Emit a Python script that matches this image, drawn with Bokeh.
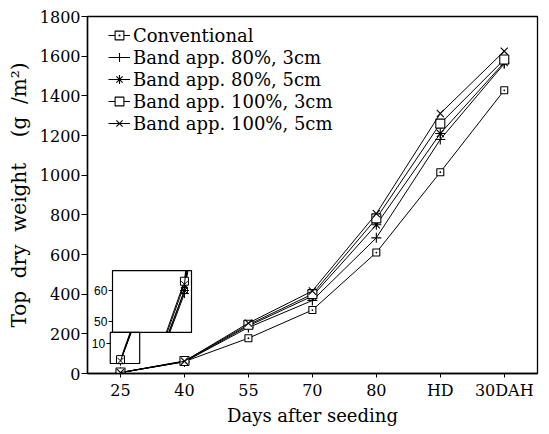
from bokeh.plotting import figure
from bokeh.models import Range1d, FixedTicker
from bokeh.embed import file_html
from bokeh.resources import INLINE
from bokeh.core.properties import value

# ---------------- data ----------------
stages = ["25", "40", "55", "70", "80", "HD", "30DAH"]
series_names = ["Conventional", "Band app. 80%, 3cm", "Band app. 80%, 5cm",
                "Band app. 100%, 3cm", "Band app. 100%, 5cm"]
conventional = [4.5, 60, 178, 320, 610, 1015, 1428]
band80_3 = [4.3, 59, 232, 368, 684, 1180, 1562]
band80_5 = [4.6, 60, 240, 390, 750, 1210, 1568]
band100_3 = [4.8, 63, 246, 400, 782, 1260, 1583]
band100_5 = [4.4, 62, 254, 416, 806, 1311, 1625]
y_ticks = [0, 200, 400, 600, 800, 1000, 1200, 1400, 1600, 1800]
inset_ticks_hi = [50, 60]
inset_ticks_lo = [10]

all_series = [conventional, band80_3, band80_5, band100_3, band100_5]
markers = ["square_dot", "cross", "asterisk", "square", "x"]
msizes = [7, 10, 10, 9, 10]

SERIF = "DejaVu Serif"
NB = "\u00a0"

p = figure(width=549, height=434, output_backend="svg", toolbar_location=None,
           x_range=Range1d(-0.516, 6.52), y_range=Range1d(0, 1800),
           min_border_left=87, min_border_right=12, min_border_top=16, min_border_bottom=61)
p.grid.visible = False
p.outline_line_color = "black"
p.outline_line_width = 1.3
p.background_fill_color = "white"

xs = list(range(len(stages)))

for name, ys, m, s in zip(series_names, all_series, markers, msizes):
    p.line(xs, ys, line_color="black", line_width=1, legend_label=name)
    p.scatter(xs, ys, marker=m, size=s, line_color="black", fill_color="white",
              line_width=1.1, legend_label=name)

# axes
for ax in (p.xaxis[0], p.yaxis[0]):
    ax.axis_line_color = "black"
    ax.axis_line_width = 1.4
    ax.major_tick_line_color = "black"
    ax.minor_tick_line_color = None
    ax.major_label_text_font = SERIF
    ax.major_label_text_font_size = "16px"
    ax.major_label_text_color = "black"
    ax.axis_label_text_font = SERIF
    ax.axis_label_text_font_style = "normal"
    ax.axis_label_text_color = "black"

p.xaxis.ticker = FixedTicker(ticks=xs)
p.xaxis.major_label_overrides = {i: s for i, s in enumerate(stages)}
p.xaxis.major_tick_in = 0
p.xaxis.major_tick_out = 4
p.xaxis.major_label_standoff = 3
p.xaxis.axis_label = "Days after seeding"
p.xaxis.axis_label_text_font_size = "18px"
p.xaxis.axis_label_standoff = 2

p.yaxis.ticker = FixedTicker(ticks=y_ticks)
p.yaxis.major_tick_in = 0
p.yaxis.major_tick_out = 6
p.yaxis.major_label_standoff = 1
p.yaxis.axis_label = ("Top" + NB * 2 + "dry" + NB * 2 + "weight" + NB * 4 +
                      "(g" + NB * 2 + "/m\u00b2)")
p.yaxis.axis_label_text_font_size = "20px"
p.yaxis.axis_label_standoff = 6

# legend
lg = p.legend[0]
lg.location = (21, 239)
lg.border_line_color = None
lg.background_fill_alpha = 0
lg.margin = 0
lg.padding = 0
lg.spacing = 0
lg.label_text_font = SERIF
lg.label_text_font_size = "18px"
lg.label_text_color = "black"
lg.label_height = 22
lg.glyph_height = 22
lg.glyph_width = 22
lg.label_standoff = 3

# ---------------- inset (broken magnified y axis) ----------------
# each box: x extent (category index), main-chart y extent, and value range shown
boxes = [
    dict(x0=-0.125, x1=1.11, b=207, t=519, v0=46.45, v1=66.45, ticks=inset_ticks_hi),
    dict(x0=-0.16, x1=0.30, b=50.4, t=207, v0=3.55, v1=13.55, ticks=inset_ticks_lo),
]


def clip(xa, ya, xb, yb, x0, x1, y0, y1):
    dx, dy = xb - xa, yb - ya
    t0, t1 = 0.0, 1.0
    for pp, qq in ((-dx, xa - x0), (dx, x1 - xa), (-dy, ya - y0), (dy, y1 - ya)):
        if pp == 0:
            if qq < 0:
                return None
        else:
            r = qq / pp
            if pp < 0:
                t0 = max(t0, r)
            else:
                t1 = min(t1, r)
    if t0 > t1:
        return None
    return (xa + t0 * dx, ya + t0 * dy, xa + t1 * dx, ya + t1 * dy)


for bx in boxes:
    p.quad(left=[bx["x0"]], right=[bx["x1"]], bottom=[bx["b"]], top=[bx["t"]],
           fill_color="white", line_color="black", line_width=1.2)

for bx in boxes:
    scale = (bx["t"] - bx["b"]) / (bx["v1"] - bx["v0"])

    def tr(v, bx=bx, scale=scale):
        return bx["b"] + (v - bx["v0"]) * scale

    for ys, m, s in zip(all_series, markers, msizes):
        segx, segy = [], []
        for i in range(len(xs) - 1):
            c = clip(xs[i], ys[i], xs[i + 1], ys[i + 1], bx["x0"], bx["x1"], bx["v0"], bx["v1"])
            if c:
                segx.append([c[0], c[2]])
                segy.append([tr(c[1]), tr(c[3])])
        if segx:
            p.multi_line(segx, segy, line_color="black", line_width=1)
        inside = [(x, v) for x, v in zip(xs, ys)
                  if bx["x0"] <= x <= bx["x1"] and bx["v0"] <= v <= bx["v1"]]
        if inside:
            p.scatter([x for x, _ in inside], [tr(v) for _, v in inside], marker=m, size=s - 1,
                      line_color="black", fill_color="white", line_width=1)
    tk = bx["ticks"]
    p.segment(x0=[bx["x0"] - 0.06] * len(tk), x1=[bx["x0"]] * len(tk),
              y0=[tr(v) for v in tk], y1=[tr(v) for v in tk], line_color="black", line_width=1)
    p.text(x=[bx["x0"] - 0.08] * len(tk), y=[tr(v) for v in tk], text=[str(v) for v in tk],
           text_align="right", text_baseline="middle", text_font=value("Liberation Sans"),
           text_font_size="12px", text_color="black")

open("out.html", "w").write(file_html(p, INLINE))
